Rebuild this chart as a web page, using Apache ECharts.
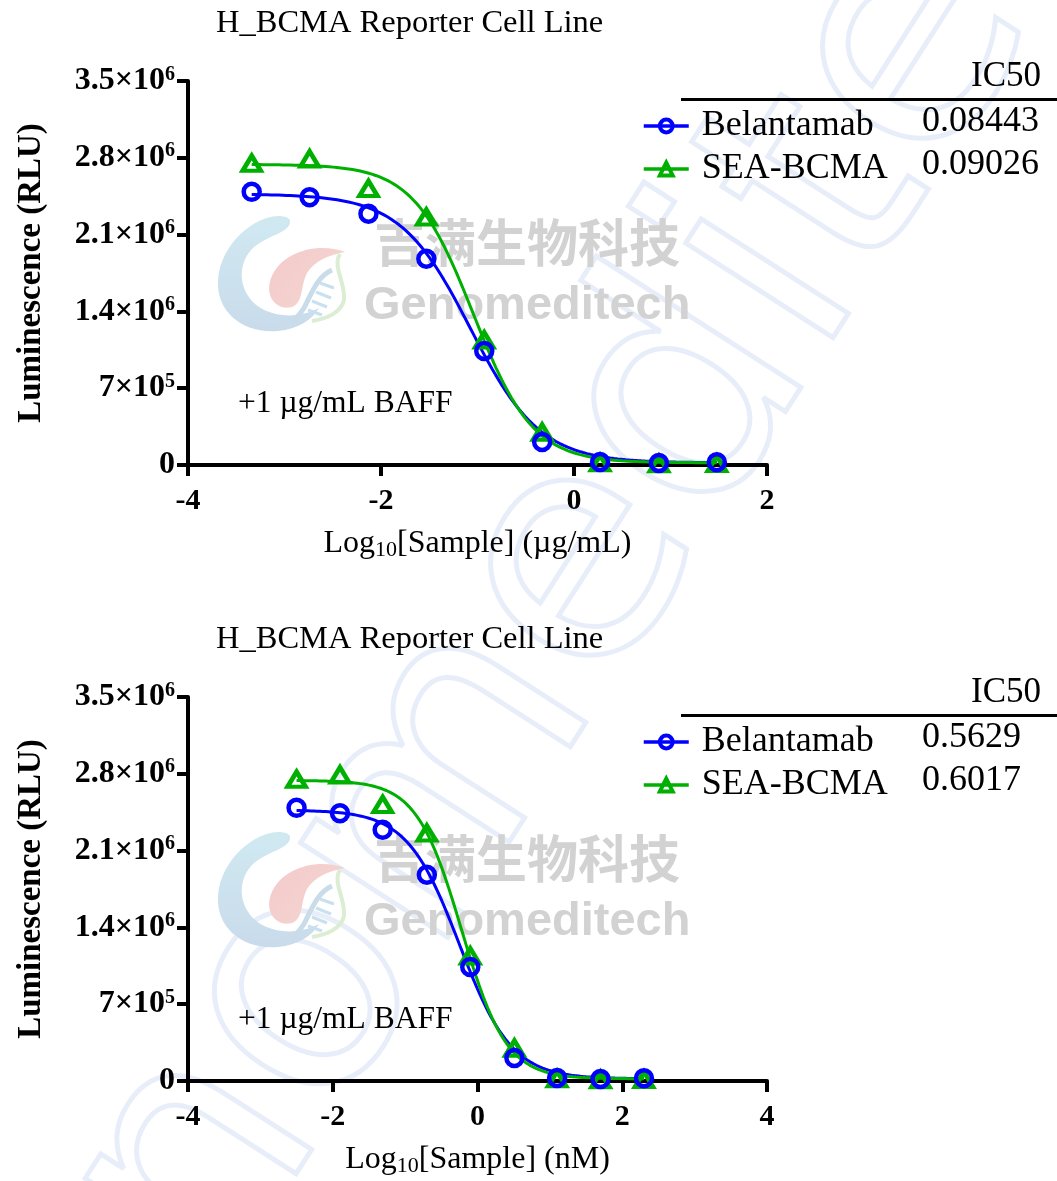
<!DOCTYPE html>
<html>
<head>
<meta charset="utf-8">
<title>H_BCMA Reporter Cell Line</title>
<script src="https://cdn.jsdelivr.net/npm/echarts@6/dist/echarts.min.js"></script>
<style>
  html, body { margin: 0; padding: 0; background: #fff; }
  #chart { width: 1057px; height: 1181px; }
</style>
</head>
<body>
<div id="chart"></div>
<script>
// ---- data ----------------------------------------------------------------
const seriesNames = ['Belantamab', 'SEA-BCMA'];

// log10 of sample concentration (4-fold dilution series)
const logConcUgml = [-3.34, -2.74, -2.13, -1.53, -0.93, -0.33, 0.27, 0.88, 1.48];
const logConcNm   = [-2.50, -1.90, -1.31, -0.70, -0.10, 0.51, 1.10, 1.70, 2.30];

// luminescence readings (RLU)
const rluBelantamab = [2490000, 2440000, 2290000, 1880000, 1040000, 210000, 27000, 18000, 25000];
const rluSeaBcma    = [2750000, 2790000, 2520000, 2260000, 1140000, 300000, 20000, 12000, 15000];

// four-parameter logistic fit results
const fitTop    = [2470000, 2740000];
const fitBottom = [20000, 20000];
const fitHill   = [1.2, 1.4];
const ic50Ugml  = [0.08443, 0.09026];
const ic50Nm    = [0.5629, 0.6017];

// axis ticks
const xTicksUgml = { min: -4, max: 2, interval: 2 };
const xTicksNm   = { min: -4, max: 4, interval: 2 };
const yTicks     = { min: 0, max: 3500000, interval: 700000 };

// ---- helpers -------------------------------------------------------------
const SERIF = '"Liberation Serif", "Times New Roman", serif';
const SANS = '"Liberation Sans", Arial, sans-serif';
const COLORS = ['#0000FF', '#00B000'];
const SYMBOLS = ['circle', 'triangle'];
const NOFILL = 'rgba(255,255,255,0)';

// logo outlines as reusable shapes
const logoShapes = {
  logoC:    'M 88,18 C 67,8 21,37 18,80 C 16,112 43,134 78,131 C 98,129 112,120 119,108 C 100,118 76,118 59,107 C 39,93 36,66 52,49 C 66,35 92,33 90,20 Z',
  logoDrop: 'M 145,52 C 120,42 82,50 71,78 C 64,98 78,111 92,107 C 104,102 100,87 107,73 C 115,60 130,55 145,52 Z',
  logoLeaf: 'M 140,54 C 132,66 146,84 144,100 C 141,113 126,119 112,121',
  logoStrand: 'M 132,70 C 118,76 112,92 104,108 C 98,118 90,124 80,128'
};
Object.keys(logoShapes).forEach(k => {
  echarts.graphic.registerShape(k, echarts.graphic.extendPath(logoShapes[k], {}));
});

function fourPL(x, top, bottom, logIc50, hill) {
  return bottom + (top - bottom) / (1 + Math.pow(10, (x - logIc50) * hill));
}
function fitCurve(i, ic50, xs) {
  const lo = Math.min(...xs), hi = Math.max(...xs);
  const pts = [];
  const n = 240;
  for (let k = 0; k <= n; k++) {
    const x = lo + (hi - lo) * k / n;
    pts.push([x, fourPL(x, fitTop[i], fitBottom[i], Math.log10(ic50[i]), fitHill[i])]);
  }
  return pts;
}
function sciLabel(v) {
  if (v === 0) return '{b|0}';
  const e = Math.floor(Math.log10(v) + 1e-9);
  const m = +(v / Math.pow(10, e)).toFixed(1);
  return '{b|' + m + '×10}{sup|' + e + '}';
}

const yLabelRich = {
  b:   { fontFamily: SERIF, fontWeight: 'bold', fontSize: 32, color: '#000', lineHeight: 33 },
  sup: { fontFamily: SERIF, fontWeight: 'bold', fontSize: 20, color: '#000', verticalAlign: 'top', lineHeight: 20 }
};
const xNameRich = {
  n:   { fontFamily: SERIF, fontSize: 32, color: '#000', lineHeight: 35 },
  sub: { fontFamily: SERIF, fontSize: 22, color: '#000', verticalAlign: 'bottom', lineHeight: 22 }
};

const panels = [
  { top: 81,  xs: logConcUgml, x: xTicksUgml, unit: 'µg/mL', ic50: ic50Ugml },
  { top: 697, xs: logConcNm,   x: xTicksNm,   unit: 'nM',    ic50: ic50Nm }
];

const grids = [], xAxes = [], yAxes = [], series = [], legends = [], titles = [], graphics = [];

panels.forEach((p, gi) => {
  grids.push({ left: 188, width: 579, top: p.top, height: 384 });
  xAxes.push({
    gridIndex: gi, type: 'value', min: p.x.min, max: p.x.max, interval: p.x.interval,
    axisLine: { onZero: false, lineStyle: { color: '#000', width: 4 } },
    axisTick: { length: 11, lineStyle: { color: '#000', width: 4 } },
    axisLabel: { margin: 21, fontFamily: SERIF, fontWeight: 'bold', fontSize: 30, color: '#000' },
    splitLine: { show: false },
    name: '{n|Log}{sub|10}{n|[Sample] (' + p.unit + ')}',
    nameLocation: 'middle', nameGap: 61,
    nameTextStyle: { rich: xNameRich }
  });
  yAxes.push({
    gridIndex: gi, type: 'value', min: yTicks.min, max: yTicks.max, interval: yTicks.interval,
    axisLine: { onZero: false, lineStyle: { color: '#000', width: 4 } },
    axisTick: { length: 11, lineStyle: { color: '#000', width: 4 } },
    axisLabel: { margin: 13, formatter: sciLabel, rich: yLabelRich },
    splitLine: { show: false },
    name: 'Luminescence (RLU)', nameLocation: 'middle', nameGap: 140,
    nameTextStyle: { fontFamily: SERIF, fontWeight: 'bold', fontSize: 33, color: '#000' }
  });

  const rlu = [rluBelantamab, rluSeaBcma];
  seriesNames.forEach((name, i) => {
    series.push({
      name, type: 'line', xAxisIndex: gi, yAxisIndex: gi,
      data: fitCurve(i, p.ic50, p.xs),
      showSymbol: false, symbol: SYMBOLS[i], symbolSize: i === 0 ? 15 : [17, 15],
      lineStyle: { color: COLORS[i], width: 3 },
      itemStyle: { color: NOFILL, borderColor: COLORS[i], borderWidth: 4 },
      emphasis: { disabled: true }, z: 3
    });
  });
  // markers drawn after curves so they sit on top; circles on top of triangles
  [1, 0].forEach(i => {
    series.push({
      name: seriesNames[i], type: 'scatter', xAxisIndex: gi, yAxisIndex: gi,
      data: p.xs.map((x, k) => [x, rlu[i][k]]),
      symbol: SYMBOLS[i], symbolSize: i === 0 ? 16 : [18, 15],
      itemStyle: { color: NOFILL, borderColor: COLORS[i], borderWidth: 4.5, opacity: 1 },
      emphasis: { disabled: true }, z: 4 + (1 - i)
    });
  });

  legends.push({
    data: seriesNames, orient: 'vertical', left: 637, top: p.top + 22,
    itemWidth: 45, itemHeight: 16, itemGap: 7, selectedMode: false,
    itemStyle: { borderWidth: 4 },
    lineStyle: { width: 3.5 },
    textStyle: { fontFamily: SERIF, fontSize: 36, color: '#000', padding: [0, 0, 0, 8] }
  });

  titles.push({
    text: 'H_BCMA Reporter Cell Line', left: 211, top: p.top - 79,
    textStyle: { fontFamily: SERIF, fontWeight: 'normal', fontSize: 32.5, color: '#000' }
  });

  const oy = p.top - 81;
  // IC50 table header, rule and values
  graphics.push(
    { type: 'text', x: 1041, y: oy + 77, z: 10,
      style: { text: 'IC50', font: '35px ' + SERIF, fill: '#000', align: 'right', verticalAlign: 'middle' } },
    { type: 'line', z: 10, shape: { x1: 681, y1: oy + 99.5, x2: 1057, y2: oy + 99.5 },
      style: { stroke: '#000', lineWidth: 3 } },
    { type: 'text', x: 922, y: oy + 122, z: 10,
      style: { text: String(p.ic50[0]), font: '36px ' + SERIF, fill: '#000', align: 'left', verticalAlign: 'middle' } },
    { type: 'text', x: 922, y: oy + 165, z: 10,
      style: { text: String(p.ic50[1]), font: '36px ' + SERIF, fill: '#000', align: 'left', verticalAlign: 'middle' } },
    { type: 'text', x: 238, y: oy + 404, z: 10,
      style: { text: '+1 µg/mL BAFF', font: '31.5px ' + SERIF, fill: '#000', align: 'left', verticalAlign: 'middle' } }
  );

  // company logo watermark
  graphics.push({
    type: 'group', x: 200, y: oy + 200, silent: true, z: -5,
    children: [
      { type: 'logoC', style: { fill: { type: 'linear', x: 0, y: 0, x2: 0, y2: 1, colorStops: [{ offset: 0, color: '#d0e9f1' }, { offset: 1, color: '#c9dbeb' }] } } },
      { type: 'logoDrop', style: { fill: { type: 'linear', x: 0, y: 0, x2: 1, y2: 1, colorStops: [{ offset: 0, color: '#f4c9cb' }, { offset: 1, color: '#f3d8d0' }] } } },
      { type: 'logoLeaf', style: { fill: null, stroke: '#dbedd2', lineWidth: 4 } },
      { type: 'logoStrand', style: { fill: null, stroke: '#cadcea', lineWidth: 5 } },
      { type: 'line', shape: { x1: 120, y1: 83, x2: 134, y2: 88 }, style: { stroke: '#c9e1ee', lineWidth: 3 } },
      { type: 'line', shape: { x1: 116, y1: 92, x2: 131, y2: 98 }, style: { stroke: '#c9e1ee', lineWidth: 3 } },
      { type: 'line', shape: { x1: 112, y1: 101, x2: 127, y2: 107 }, style: { stroke: '#c9e1ee', lineWidth: 3 } },
      { type: 'line', shape: { x1: 108, y1: 110, x2: 122, y2: 115 }, style: { stroke: '#c9e1ee', lineWidth: 3 } }
    ]
  });
  graphics.push(
    { type: 'text', left: 374, top: oy + 217, silent: true, z: -4,
      style: { text: '吉满生物科技', font: 'bold 51px "Noto Sans CJK SC"', fill: '#d2d2d2' } },
    { type: 'text', left: 364, top: oy + 283, silent: true, z: -4,
      style: { text: 'Genomeditech', font: 'bold 47px ' + SANS, fill: '#d2d2d2' } }
  );
});

// large diagonal outline watermark behind everything
graphics.unshift({
  type: 'text', x: 540, y: 640, rotation: 1.0, silent: true, z: -10,
  style: {
    text: 'Genomeditech', font: '320px "DejaVu Sans"', fill: null,
    stroke: '#e8eef9', lineWidth: 5, align: 'center', verticalAlign: 'middle'
  }
});

const chart = echarts.init(document.getElementById('chart'), null, { renderer: 'canvas' });
chart.setOption({
  backgroundColor: '#fff',
  animation: false,
  title: titles,
  legend: legends,
  grid: grids,
  xAxis: xAxes,
  yAxis: yAxes,
  series: series,
  graphic: graphics
});
</script>
</body>
</html>
